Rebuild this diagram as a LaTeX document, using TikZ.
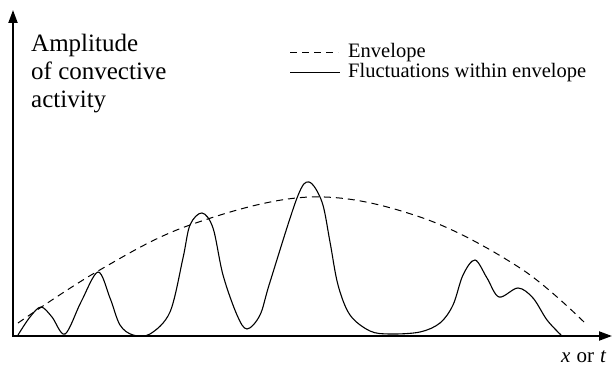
\documentclass[tikz,border=0pt]{standalone}
\usepackage{fontspec}
\setmainfont{Liberation Serif}
\usetikzlibrary{arrows.meta}

\begin{document}
\begin{tikzpicture}[x=1pt, y=-1pt,
    axis/.style={line width=2pt, {Triangle[length=13pt,width=9pt]}-{Triangle[length=13pt,width=9pt]}},
    envelope/.style={line width=1pt, dash pattern=on 7pt off 5pt},
    fluct/.style={line width=1.1pt},
    lbl/.style={inner sep=0pt, anchor=base west}]
    \useasboundingbox (0,0) rectangle (612,371);

    % axes
    \coordinate (ytop) at (13,10);
    \coordinate (o) at (13,336);
    \coordinate (xend) at (612,336);
    \draw[axis] (ytop) -- (o) -- (xend);

    \node[lbl, align=left, font=\fontsize{25}{28}\selectfont] (ylabel) at (31,108)
        {Amplitude\\of convective\\activity};
    \node[lbl, font=\fontsize{21}{24}\selectfont] (xlabel) at (561,362)
        {\textit{x}\hspace{6pt}or\hspace{6pt}\textit{t}};

    % legend
    \node[lbl, font=\fontsize{20.5}{24}\selectfont] (envtxt) at (348,57.3) {Envelope};
    \node[lbl, font=\fontsize{20.5}{24}\selectfont] (fluctxt) at (348,77.3) {Fluctuations within envelope};
    \draw[envelope] ([xshift=-58pt]envtxt.west) -- ([xshift=-10pt]envtxt.west);
    \draw[fluct] ([xshift=-58pt]fluctxt.west) -- ([xshift=-8pt]fluctxt.west);

    % envelope
    \draw[envelope] plot[smooth, tension=0.6] coordinates {
        (18,323) (98,271) (190,225) (310,197) (420,217) (520,268) (585,323)};

    % fluctuations
    \draw[fluct] plot[smooth, tension=0.55] coordinates {
        (18,335) (30,317) (41,307) (52,317) (65,334) (81,302) (98,272)
        (110,298) (120,325) (133,335) (150,334) (170,312) (183,258) (190,225)
        (202,213) (213,228) (223,275) (237,315) (247,329) (260,315) (270,282)
        (297,198) (309,182) (322,202) (330,242) (338,285) (350,315) (370,331)
        (390,334) (420,332) (440,323) (453,305) (463,275) (475,260) (487,278)
        (499,297) (518,288) (533,298) (547,320) (561,335)};
\end{tikzpicture}
\end{document}
